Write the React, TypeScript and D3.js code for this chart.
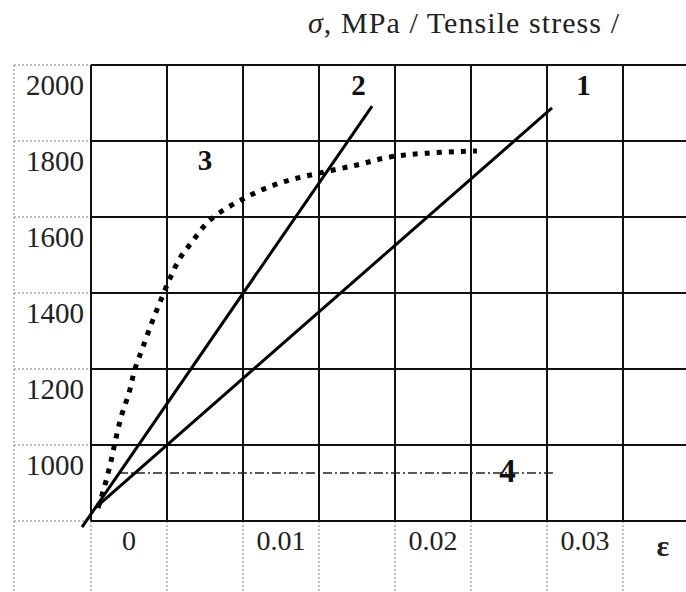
import * as d3 from "d3";

// strain (ε) / stress (σ, MPa) readings
const line1 = [
  [0.00026, 834],
  [0.03033, 1887],
];
const line2 = [
  [-0.00059, 784],
  [0.01849, 1892],
];
const curve3 = [
  [0.00046, 834],
  [0.00092, 895],
  [0.0013, 955],
  [0.00164, 1018],
  [0.00202, 1079],
  [0.0025, 1137],
  [0.00289, 1200],
  [0.00342, 1258],
  [0.00399, 1321],
  [0.00454, 1376],
  [0.0052, 1439],
  [0.00586, 1492],
  [0.00664, 1534],
  [0.00783, 1592],
  [0.01026, 1653],
  [0.01263, 1692],
  [0.01507, 1716],
  [0.0175, 1737],
  [0.01967, 1758],
  [0.02211, 1768],
  [0.02539, 1774],
];
const line4 = [
  [0.00184, 926],
  [0.03053, 926],
];

const rowLabels = ["2000", "1800", "1600", "1400", "1200", "1000"];
const rowValues = [2000, 1800, 1600, 1400, 1200, 1000];
const colLabels = ["0", "", "0.01", "", "0.02", "", "0.03", "ε"];
const colStarts = [0, 0.005, 0.01, 0.015, 0.02, 0.025, 0.03, 0.035];

const W = 686;
const H = 592;

export default function App() {
  const x = d3.scaleLinear().domain([0, 0.035]).range([91, 623]);
  const y = d3.scaleLinear().domain([800, 2000]).range([521, 65]);

  const gridX = d3.range(0, 0.0351, 0.005);
  const gridY = d3.range(800, 2001, 200);

  const line = d3
    .line<number[]>()
    .x((d) => x(d[0]))
    .y((d) => y(d[1]));
  const smooth = d3
    .line<number[]>()
    .x((d) => x(d[0]))
    .y((d) => y(d[1]))
    .curve(d3.curveCatmullRom);

  const serif = "Liberation Serif, serif";
  const colW = x(0.005) - x(0);

  return (
    <svg
      width={W}
      height={H}
      style={{ position: "absolute", left: 0, top: 0, background: "#fff" }}
      fontFamily={serif}
    >
      {/* title */}
      <text x={308} y={33} fontSize={30} fill="#222" textLength={311} lengthAdjust="spacing">
        <tspan fontStyle="italic">σ</tspan>, MPa / Tensile stress /
      </text>

      {/* dotted cells: label column and label row */}
      <g stroke="#aaa" strokeWidth={1.5} strokeDasharray="2 2">
        <line x1={14} x2={14} y1={y(2000)} y2={H} />
        {gridY.map((v) => (
          <line key={"dy" + v} x1={14} x2={x(0)} y1={y(v)} y2={y(v)} />
        ))}
        {gridX.map((v) => (
          <line key={"dx" + v} x1={x(v)} x2={x(v)} y1={y(800)} y2={H} />
        ))}
      </g>

      {/* solid grid */}
      <g stroke="#111" strokeWidth={2}>
        {gridY.map((v) => (
          <line key={"gy" + v} x1={x(0)} x2={W} y1={y(v)} y2={y(v)} />
        ))}
        {gridX.map((v) => (
          <line key={"gx" + v} x1={x(v)} x2={x(v)} y1={y(2000)} y2={y(800)} />
        ))}
      </g>

      {/* row labels */}
      {rowLabels.map((t, i) => (
        <text key={t} x={84} y={y(rowValues[i]) + 30} fontSize={29} fill="#222" textAnchor="end">
          {t}
        </text>
      ))}

      {/* column labels */}
      {colLabels.map((t, i) =>
        t === "ε" ? (
          <text key={"c" + i} x={x(colStarts[i]) + 40} y={556} fontSize={30} fontWeight="bold" fill="#222" textAnchor="middle">
            {t}
          </text>
        ) : (
          <text key={"c" + i} x={x(colStarts[i]) + colW / 2} y={550} fontSize={28} fill="#222" textAnchor="middle">
            {t}
          </text>
        )
      )}

      {/* series */}
      <path d={line(line4) || ""} fill="none" stroke="#222" strokeWidth={1.5} strokeDasharray="9 3 2 3" />
      <path d={line(line1) || ""} fill="none" stroke="#000" strokeWidth={3} />
      <path d={line(line2) || ""} fill="none" stroke="#000" strokeWidth={3} />
      <path d={smooth(curve3) || ""} fill="none" stroke="#000" strokeWidth={5} strokeDasharray="5 7" />

      {/* curve numbers */}
      <g fontSize={29} fontWeight="bold" fill="#111" textAnchor="middle">
        <text x={x(0.0324)} y={95}>1</text>
        <text x={x(0.0176)} y={95}>2</text>
        <text x={x(0.0075)} y={170}>3</text>
        <text x={x(0.0274)} y={482} fontSize={33}>4</text>
      </g>
    </svg>
  );
}
